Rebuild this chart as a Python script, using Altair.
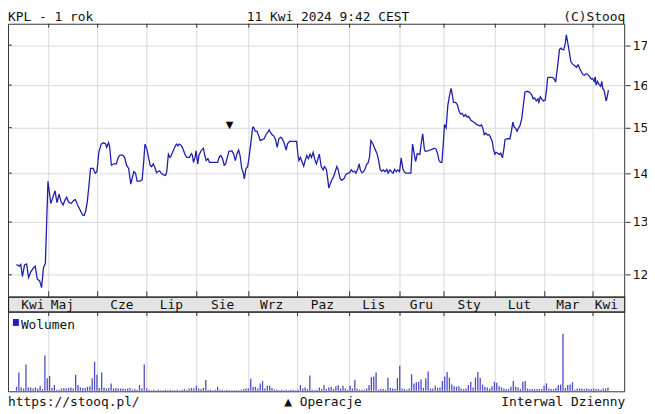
import altair as alt
import pandas as pd

# ---------------- data ----------------
# (trading-day index, close price)
price_series = [
(0.0,12.19),(1.1,12.16),(1.8,12.19),(2.5,11.97),(3.4,12.18),(4.3,12.20),(5.1,11.95),(6.1,12.06),(7.1,12.12),(7.9,12.16),
(8.8,11.92),(9.8,11.89),(10.6,11.77),(11.4,12.13),(12.2,12.21),(13.3,13.83),(14.5,13.37),(15.4,13.50),(16.3,13.63),(17.1,13.39),
(18.0,13.56),(18.8,13.41),(19.7,13.34),(20.4,13.43),(21.2,13.50),(22.0,13.40),(23.1,13.37),(24.1,13.43),(24.9,13.45),(25.8,13.34),
(26.9,13.24),(27.9,13.14),(28.6,13.13),(29.2,13.21),(29.9,13.40),(30.6,13.73),(31.3,14.10),(32.4,14.10),(33.3,14.00),(34.0,14.03),
(34.8,14.45),(35.8,14.63),(36.7,14.66),(37.6,14.64),(38.1,14.56),(38.9,14.66),(39.4,14.56),(40.1,14.17),(41.1,14.20),(42.2,14.20),
(43.0,14.34),(43.8,14.39),(44.9,14.39),(45.7,14.34),(46.5,14.17),(47.4,14.10),(48.3,13.77),(49.1,13.93),(49.6,14.03),(50.3,14.00),
(51.0,13.83),(52.1,13.83),(53.1,13.86),(53.7,14.20),(54.3,14.63),(55.1,14.52),(55.8,14.34),(56.5,14.17),(57.1,14.14),(57.8,14.20),
(58.5,14.12),(59.2,14.01),(59.8,14.03),(60.5,14.05),(61.2,14.00),(61.9,13.97),(63.0,13.95),(63.5,14.03),(64.2,14.41),(64.9,14.34),
(65.4,14.38),(66.2,14.48),(67.1,14.59),(67.6,14.63),(68.2,14.59),(68.7,14.63),(69.4,14.61),(70.0,14.57),(70.7,14.48),(71.4,14.38),
(72.1,14.34),(73.1,14.34),(73.9,14.42),(74.4,14.38),(74.8,14.23),(75.5,14.34),(75.9,14.48),(76.6,14.20),(77.1,14.38),(77.7,14.45),
(78.2,14.50),(79.0,14.54),(79.6,14.38),(80.2,14.27),(80.9,14.31),(81.6,14.23),(82.6,14.23),(83.7,14.23),(85.0,14.23),(85.7,14.35),
(86.4,14.38),(87.1,14.31),(87.8,14.17),(88.4,14.20),(89.1,14.34),(89.8,14.47),(91.1,14.48),(91.8,14.41),(92.5,14.27),(93.2,14.42),
(93.9,14.50),(94.5,14.38),(95.2,14.10),(95.9,14.00),(96.3,13.88),(97.0,14.10),(97.7,14.14),(98.2,14.31),(99.0,14.63),(99.8,15.00),
(100.2,15.01),(100.9,14.92),(101.6,14.92),(102.3,14.83),(103.0,14.71),(103.8,14.73),(104.7,14.75),(105.4,14.84),(106.1,14.89),(106.8,14.95),
(107.5,14.88),(108.2,14.83),(108.8,14.81),(109.5,14.73),(110.2,14.56),(110.9,14.75),(111.6,14.78),(112.2,14.76),(112.9,14.69),(114.0,14.50),
(114.5,14.63),(115.4,14.69),(118.4,14.69),(119.0,14.38),(119.4,14.27),(120.0,14.34),(120.8,14.23),(121.4,14.15),(122.0,14.27),(122.7,14.38),
(123.4,14.31),(124.1,14.41),(124.7,14.34),(125.4,14.45),(126.2,14.27),(126.8,14.20),(128.0,14.41),(128.8,14.14),(129.6,14.07),(130.2,14.14),
(131.0,14.08),(131.6,13.86),(132.0,13.69),(132.7,13.79),(133.3,13.86),(134.0,13.92),(134.7,14.03),(135.4,14.14),(136.0,14.07),(136.7,13.90),
(137.4,13.85),(138.4,13.88),(139.2,13.97),(139.8,13.99),(140.8,14.01),(141.5,14.07),(142.2,14.03),(142.9,14.04),(143.5,14.00),(144.2,14.09),
(144.9,14.20),(145.3,14.07),(146.0,14.01),(146.7,14.03),(147.4,14.10),(148.0,14.19),(148.6,14.22),(149.2,14.34),(149.8,14.71),(150.6,14.64),
(151.4,14.54),(152.4,14.42),(153.1,14.27),(153.7,14.08),(154.4,14.04),(155.1,14.07),(155.8,14.03),(156.5,14.08),(157.1,14.00),(157.8,14.07),
(158.5,14.03),(159.2,14.00),(159.8,14.08),(160.5,14.03),(161.2,14.07),(161.9,14.03),(162.6,14.33),(163.3,14.10),(163.9,14.03),(164.6,14.00),
(166.7,14.00),(167.4,14.63),(168.0,14.45),(168.7,14.25),(169.4,14.42),(170.0,14.41),(170.5,14.40),(171.1,14.66),(171.7,14.86),(172.4,14.52),
(172.8,14.47),(173.9,14.48),(174.8,14.50),(175.8,14.52),(176.6,14.54),(177.3,14.52),(178.0,14.42),(178.6,14.27),(179.3,14.23),(179.8,14.23),
(180.4,14.63),(180.9,15.07),(181.6,14.99),(182.3,15.51),(183.0,15.74),(183.7,15.92),(184.3,15.74),(184.7,15.59),(185.7,15.58),(186.4,15.53),
(187.1,15.37),(187.8,15.31),(188.4,15.33),(189.1,15.26),(189.8,15.30),(190.5,15.24),(191.1,15.26),(192.1,15.17),(193.2,15.13),(193.9,15.10),
(194.5,15.07),(195.2,15.06),(195.9,15.04),(196.6,15.06),(197.3,14.95),(197.7,14.84),(198.4,14.88),(198.9,14.84),(199.7,14.84),(200.4,14.78),
(201.1,14.69),(201.6,14.52),(202.2,14.41),(202.7,14.45),(203.4,14.43),(204.1,14.40),(204.7,14.43),(205.4,14.33),(206.1,14.56),(206.5,14.73),
(207.5,14.75),(208.6,14.75),(209.2,14.92),(209.8,15.13),(210.3,15.02),(210.9,14.99),(211.6,14.92),(212.2,14.99),(212.9,15.06),(213.6,15.22),
(214.3,15.55),(214.9,15.83),(215.9,15.85),(216.7,15.83),(217.7,15.77),(218.4,15.67),(219.0,15.69),(219.7,15.62),(220.4,15.67),(220.8,15.59),
(221.4,15.72),(222.0,15.67),(222.7,15.62),(223.5,15.64),(224.1,15.92),(224.5,16.18),(225.1,16.19),(226.2,16.19),(226.9,16.18),(227.5,16.13),
(227.9,16.07),(228.4,16.32),(229.0,16.60),(229.5,16.89),(230.2,16.92),(230.6,16.89),(231.3,16.88),(232.0,17.06),(232.4,17.27),(232.9,17.10),
(233.6,16.85),(234.3,16.58),(234.9,16.53),(235.8,16.48),(236.7,16.44),(237.4,16.50),(238.1,16.40),(238.8,16.32),(239.4,16.26),(240.1,16.24),
(240.8,16.28),(241.5,16.26),(242.3,16.20),(242.9,16.15),(243.5,16.16),(244.2,16.09),(244.6,16.20),(245.0,16.00),(245.6,16.09),(246.2,16.02),
(246.9,15.97),(247.4,16.09),(247.8,15.92),(248.3,15.88),(248.7,15.78),(249.2,15.62),(249.6,15.69),(250.2,15.88),
]

# daily volume (arbitrary units), one value per trading day starting at day 0
volume = [
7,32,6,4,46,6,6,4,6,4,9,3,62,22,26,
5,10,2,2,4,5,4,5,6,4,28,10,6,5,5,7,8,22,51,28,
5,32,6,4,5,13,4,5,4,4,4,3,4,5,2,3,2,10,4,46,4,2,
1,2,1,2,1,1,2,1,2,1,1,2,1,2,3,2,
4,5,
4,9,4,3,5,19,2,2,1,2,7,2,2,1,2,1,1,1,1,1,2,3,4,4,21,7,7,4,13,17,4,9,9,5,2,2,1,2,1,2,1,2,2,1,2,10,4,6,3,27,2,1,2,6,3,10,3,6,
7,3,8,10,4,9,4,2,9,4,19,4,2,2,2,4,10,24,25,32,2,3,3,2,23,5,4,3,22,44,4,3,2,4,29,13,15,16,20,5,22,34,4,4,9,5,6,17,25,33,23,11,8,7,8,4,3,4,10,16,6,23,33,23,11,7,6,4,8,16,14,8,6,4,3,3,7,17,7,6,3,16,17,4,3,3,3,3,3,3,9,13,4,3,3,5,10,11,100,5,10,11,15,2,4,4,4,3,4,3,3,4,3,3,2,4,4,6,
]

month_bounds = [13.6, 34.3, 55.1, 76.2, 98.2, 118.8, 140.8, 162.1, 180.7, 202.4, 223.3, 243.7]
month_labels = ["Kwi", "Maj", "Cze", "Lip", "Sie", "Wrz", "Paz", "Lis", "Gru", "Sty", "Lut", "Mar", "Kwi"]
month_label_day = [6.9, 19.4, 44.5, 65.5, 87.1, 107.8, 129.3, 151.0, 171.1, 191.3, 212.6, 233.1, 249.3]
price_ticks = [12, 13, 14, 15, 16, 17]
marker_day = [90.0]
marker_price = [15.07]

# ---------------- layout ----------------
W, H = 623, 404
MONO = "DejaVu Sans Mono"
FRAME = "#333333"
GRID = "#d9d9d9"
TXT = "#111111"

P_TOP, P_BOT = 14, 290      # price panel
B_TOP, B_BOT = 290, 305     # month band
V_TOP, V_BOT = 305, 386     # volume panel

XS = alt.Scale(domain=[-1.5, 255.2], nice=False, zero=False)
PS = alt.Scale(type="log", domain=[11.60, 17.56], range=[P_BOT, P_TOP], nice=False)
VS = alt.Scale(domain=[0, 138], range=[V_BOT - 1.5, V_TOP], nice=False, zero=False)

price_df = pd.DataFrame({"day": [p[0] for p in price_series], "close": [p[1] for p in price_series]})
vol_df = pd.DataFrame({"day": list(range(len(volume))), "vol": volume})
bounds_df = pd.DataFrame({"day": month_bounds})
mlab_df = pd.DataFrame({"day": month_label_day, "m": month_labels})
ticks_df = pd.DataFrame({"p": price_ticks})
marker_df = pd.DataFrame({"day": marker_day, "p": marker_price, "s": ["▼"]})
one = pd.DataFrame({"k": [0]})


def text_layer(txt, x, y, align, size=13, font=MONO, color=TXT):
    return alt.Chart(pd.DataFrame({"t": [txt]})).mark_text(
        align=align, baseline="alphabetic", font=font, fontSize=size, color=color
    ).encode(x=alt.value(x), y=alt.value(y), text="t:N")


def box(x1, x2, y1, y2, **kw):
    return alt.Chart(one).mark_rect(**kw).encode(
        x=alt.value(x1), x2=alt.value(x2), y=alt.value(y1), y2=alt.value(y2)
    )


def vrules(y1, y2, color, width=1):
    return alt.Chart(bounds_df).mark_rule(color=color, strokeWidth=width).encode(
        x=alt.X("day:Q", scale=XS, axis=None), y=alt.value(y1), y2=alt.value(y2)
    )


# month gridlines in both panels
grid_price = vrules(P_TOP, P_BOT, GRID)
grid_vol = vrules(V_TOP, V_BOT, GRID)

# month band
band = box(0.5, W - 0.5, B_TOP, B_BOT, fill="#e4e4e4", stroke="#222222", strokeWidth=1.2)
band_labels = alt.Chart(mlab_df).mark_text(
    font=MONO, fontSize=13, color=TXT, baseline="middle", align="center"
).encode(x=alt.X("day:Q", scale=XS, axis=None), y=alt.value((B_TOP + B_BOT) / 2 + 0.5), text="m:N")

# volume bars
bars = alt.Chart(vol_df).mark_bar(width=1.3, color="#4b4bc8").encode(
    x=alt.X("day:Q", scale=XS, axis=None),
    y=alt.Y("vol:Q", scale=VS, axis=None),
)

# price line with right axis (horizontal gridlines)
line = alt.Chart(price_df).mark_line(color="#1f1fae", strokeWidth=1.3).encode(
    x=alt.X("day:Q", scale=XS, axis=None),
    y=alt.Y(
        "close:Q",
        scale=PS,
        axis=alt.Axis(
            orient="right", values=price_ticks, format="d", title=None,
            grid=True, gridColor=GRID, gridWidth=1, domain=False,
            ticks=True, tickColor=FRAME, tickSize=5, tickWidth=1,
            labelFont="DejaVu Sans", labelFontSize=12.5, labelColor=TXT, labelPadding=2,
        ),
    ),
)

left_ticks = alt.Chart(ticks_df).mark_rule(color=FRAME).encode(
    x=alt.value(0), x2=alt.value(4), y=alt.Y("p:Q", scale=PS, axis=None)
)

marker = alt.Chart(marker_df).mark_text(font="DejaVu Sans", fontSize=10, color="#000000", baseline="middle").encode(
    x=alt.X("day:Q", scale=XS, axis=None), y=alt.Y("p:Q", scale=PS, axis=None), text="s:N"
)

# frames and month ticks
frame_price = box(0.5, W - 0.5, P_TOP + 0.5, P_BOT, fillOpacity=0, stroke=FRAME, strokeWidth=1)
frame_vol = box(0.5, W - 0.5, V_TOP, V_BOT - 0.5, fillOpacity=0, stroke=FRAME, strokeWidth=1)
ticks_top = vrules(P_TOP, P_TOP + 4, FRAME)
ticks_above_band = vrules(B_TOP - 6, B_TOP, FRAME)
ticks_below_band = vrules(B_BOT, B_BOT + 4, FRAME)

# legend for volume
legend_sq = box(5, 11, V_TOP + 7, V_TOP + 14, fill="#2020c0")
legend_txt = text_layer("Wolumen", 13, V_TOP + 17, "left")

# header / footer
h1 = text_layer("KPL - 1 rok", 0, 11, "left")
h2 = text_layer("11 Kwi 2024 9:42 CEST", 323, 11, "center")
h3 = text_layer("(C)Stooq", W, 11, "right")
f1 = text_layer("https://stooq.pl/", 0, 400, "left")
f2 = text_layer("▲ Operacje", 318, 400, "center")
f3 = text_layer("Interwal Dzienny", W, 400, "right")

chart = alt.layer(
    grid_price, grid_vol, band, bars, line, left_ticks, marker,
    frame_price, frame_vol, ticks_top, ticks_above_band, ticks_below_band, band_labels,
    legend_sq, legend_txt, h1, h2, h3, f1, f2, f3,
).resolve_scale(y="independent").properties(
    width=W, height=H,
    autosize=alt.AutoSizeParams(type="none"),
    padding={"left": 0, "top": 0, "right": 22, "bottom": 0},
    background="#ffffff",
).configure_view(strokeWidth=0)

chart.save("out.html", embed_options={"renderer": "svg", "actions": False})
